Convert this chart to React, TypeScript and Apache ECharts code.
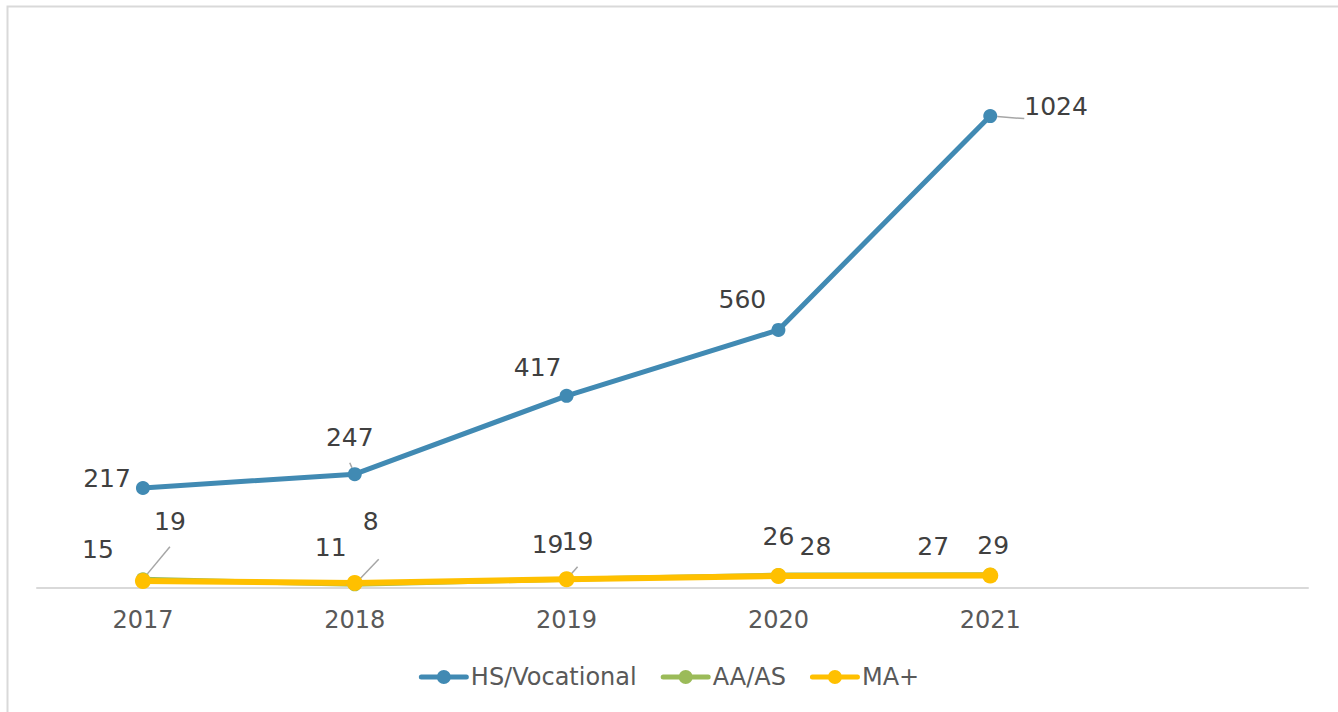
import React, { useEffect, useRef } from "react";
import * as echarts from "echarts";

const categories = ["2017", "2018", "2019", "2020", "2021", ""];
const hsValues = [217, 247, 417, 560, 1024];
const aaValues = [19, 8, 19, 28, 29];
const maValues = [15, 11, 19, 26, 27];

const hsLabelOffsets: [string, number[], boolean][] = [
  ["left", [0, -9], false],
  ["top", [-5, -12], true],
  ["top", [-29, -4], false],
  ["top", [-36, -6], false],
  ["right", [22, -10], true],
];
const aaLabelOffsets: [string, number[], boolean][] = [
  ["top", [27, -33], true],
  ["top", [16, -38], true],
  ["top", [11, -13], true],
  ["top", [37, -4], false],
  ["top", [3, -5], true],
];
const maLabelOffsets: [string, number[], boolean][] = [
  ["top", [-45, -6], false],
  ["top", [-24, -10], true],
  ["top", [-19, -9], false],
  ["top", [0, -14], false],
  ["top", [-57, -4], false],
];

const FONT = "DejaVu Sans";
const LEGEND_ICON =
  "path://M2.5,4.5 L47.5,4.5 A2.5,2.5 0 0 1 47.5,9.5 L2.5,9.5 A2.5,2.5 0 0 1 2.5,4.5 Z M25,0 A7,7 0 1 1 25,14 A7,7 0 1 1 25,0 Z";

function build(values: number[], offs: [string, number[], boolean][]) {
  return values.map((v, i) => ({
    value: v,
    label: { position: offs[i][0], offset: offs[i][1] },
    labelLine: { show: offs[i][2] },
  }));
}

export default function App() {
  const ref = useRef<HTMLDivElement>(null);
  useEffect(() => {
    document.body.style.margin = "0";
    const chart = echarts.init(ref.current!, null, { renderer: "svg" });
    const labelBase = {
      show: true,
      color: "#404040",
      fontSize: 25,
      fontFamily: FONT,
    };
    const lineBase = {
      color: "#a6a6a6",
      width: 1.5,
    };
    chart.setOption({
      animation: false,
      backgroundColor: "#ffffff",
      graphic: [
        {
          type: "rect",
          left: 5,
          top: 4,
          shape: { width: 1332, height: 720 },
          style: { fill: "none", stroke: "#d9d9d9", lineWidth: 2 },
          silent: true,
        },
      ],
      grid: { left: 37, right: 30, top: 35, bottom: 124 },
      legend: {
        bottom: 18,
        left: "center",
        icon: LEGEND_ICON,
        itemWidth: 50,
        itemHeight: 14,
        itemGap: 24,
        textStyle: { color: "#595959", fontSize: 24, fontFamily: FONT, padding: [0, 0, 0, -3] },
        data: ["HS/Vocational", "AA/AS", "MA+"],
      },
      xAxis: {
        type: "category",
        data: categories,
        boundaryGap: true,
        axisLine: { lineStyle: { color: "#d9d9d9", width: 2 } },
        axisTick: { show: false },
        axisLabel: { color: "#595959", fontSize: 24, fontFamily: FONT, margin: 20 },
      },
      yAxis: {
        type: "value",
        min: 0,
        max: 1200,
        show: false,
        splitLine: { show: false },
      },
      series: [
        {
          name: "HS/Vocational",
          type: "line",
          data: build(hsValues, hsLabelOffsets),
          symbol: "circle",
          symbolSize: 14,
          color: "#418AB3",
          lineStyle: { width: 5, color: "#418AB3" },
          itemStyle: { color: "#418AB3" },
          label: labelBase,
          labelLine: { lineStyle: lineBase },
          z: 3,
        },
        {
          name: "AA/AS",
          type: "line",
          data: build(aaValues, aaLabelOffsets),
          symbol: "circle",
          symbolSize: 14,
          color: "#9BBB59",
          lineStyle: { width: 5, color: "#9BBB59" },
          itemStyle: { color: "#9BBB59" },
          label: labelBase,
          labelLine: { lineStyle: lineBase },
          z: 2,
        },
        {
          name: "MA+",
          type: "line",
          data: build(maValues, maLabelOffsets),
          symbol: "circle",
          symbolSize: 16,
          color: "#FFC000",
          lineStyle: { width: 6, color: "#FFC000" },
          itemStyle: { color: "#FFC000" },
          label: labelBase,
          labelLine: { lineStyle: lineBase },
          z: 3,
        },
      ],
    });
    return () => chart.dispose();
  }, []);
  return <div ref={ref} style={{ width: 1338, height: 712 }} />;
}
